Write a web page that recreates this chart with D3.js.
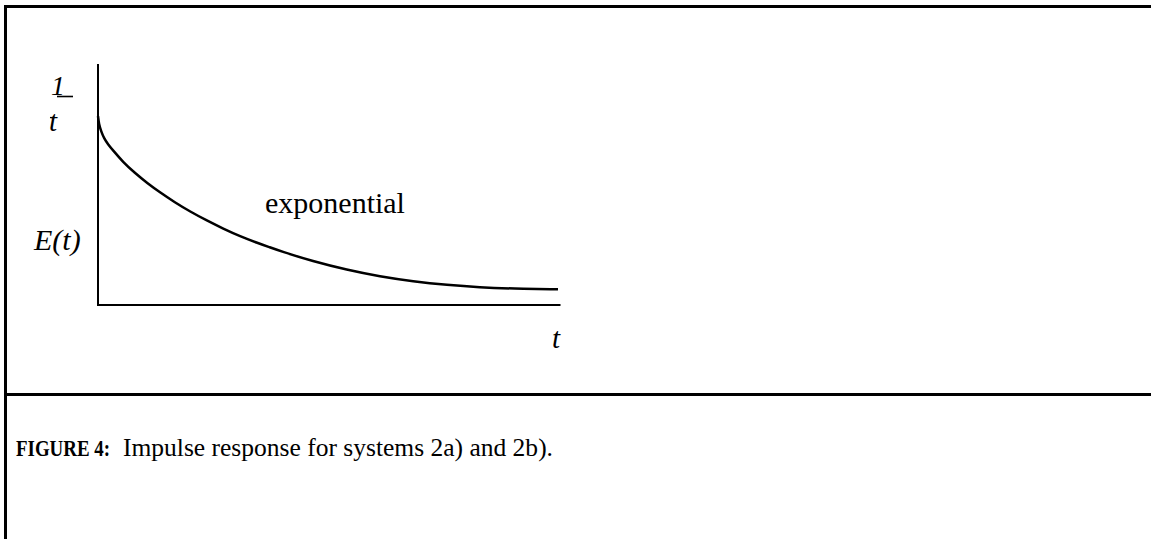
<!DOCTYPE html>
<html>
<head>
<meta charset="utf-8">
<script src="https://cdn.jsdelivr.net/npm/d3@7"></script>
<style>
  html, body { margin: 0; padding: 0; background: #fff; }
  svg { display: block; }
  text { font-family: "Liberation Serif", "Times New Roman", serif; fill: #000; }
</style>
</head>
<body>
<script>
// Impulse response E(t): decaying curve sampled at these times
const tValues = [0, 0.02, 0.07, 0.13, 0.22, 0.33, 0.54, 0.80, 1.07, 1.35, 1.67, 2.0, 2.37, 2.72,
                 3.09, 3.46, 3.74, 3.96, 4.67, 5.41, 6.13, 6.85, 7.59, 8.30, 9.02, 10];
const eValues = [0.784, 0.751, 0.720, 0.692, 0.666, 0.641, 0.594, 0.548, 0.506, 0.467, 0.426, 0.388,
                 0.350, 0.317, 0.285, 0.258, 0.239, 0.224, 0.181, 0.146, 0.118, 0.098, 0.083, 0.073,
                 0.068, 0.065];
const curveLabel = "exponential";
const yLabel = "E(t)";
const xLabel = "t";
const captionBold = "FIGURE 4:";
const captionText = "Impulse response for systems 2a) and 2b).";

const W = 1151, H = 539;
const svg = d3.select("body").append("svg").attr("width", W).attr("height", H);
svg.append("rect").attr("width", W).attr("height", H).attr("fill", "#fff");

// Frame: top rule, left rule, and the rule separating figure from caption
const frame = svg.append("g").attr("stroke", "#000").attr("stroke-width", 3);
frame.append("line").attr("x1", 4).attr("x2", W).attr("y1", 6.5).attr("y2", 6.5);
frame.append("line").attr("x1", 5.5).attr("x2", 5.5).attr("y1", 5).attr("y2", H);
frame.append("line").attr("x1", 4).attr("x2", W).attr("y1", 394.5).attr("y2", 394.5);

// Plot area
const x = d3.scaleLinear().domain([0, 10]).range([98, 558]);
const y = d3.scaleLinear().domain([0, 1]).range([305, 64]);

const axes = svg.append("g").attr("stroke", "#000").attr("stroke-width", 2).attr("fill", "none");
axes.append("line").attr("x1", x(0)).attr("x2", x(0)).attr("y1", y(1)).attr("y2", y(0) + 1);
axes.append("line").attr("x1", x(0) - 1).attr("x2", x(10) + 2.5).attr("y1", y(0)).attr("y2", y(0));

const data = tValues.map((t, i) => ({ t, e: eValues[i] }));
const line = d3.line().x(d => x(d.t)).y(d => y(d.e)).curve(d3.curveBasis);
svg.append("path").datum(data).attr("d", line)
  .attr("fill", "none").attr("stroke", "#000").attr("stroke-width", 2.5);

// Labels
svg.append("text").attr("x", 265).attr("y", 213).attr("font-size", 30).text(curveLabel);
svg.append("text").attr("x", 34).attr("y", 250).attr("font-size", 30)
  .attr("font-style", "italic").text(yLabel);
svg.append("text").attr("x", 552).attr("y", 348).attr("font-size", 29)
  .attr("font-style", "italic").text(xLabel);

// 1 / t-bar marker at the top of the E axis
svg.append("text").attr("x", 51).attr("y", 95).attr("font-size", 28)
  .attr("font-style", "italic").text("1");
svg.append("line").attr("x1", 57).attr("x2", 73).attr("y1", 96.5).attr("y2", 96.5)
  .attr("stroke", "#000").attr("stroke-width", 1.6);
svg.append("text").attr("x", 49).attr("y", 131).attr("font-size", 29)
  .attr("font-style", "italic").text("t");
svg.append("line").attr("x1", 50).attr("x2", 55).attr("y1", 117.5).attr("y2", 117.5)
  .attr("stroke", "#000").attr("stroke-width", 1.2);

// Caption
svg.append("text").attr("x", 16).attr("y", 456).attr("font-size", 23)
  .attr("font-weight", "bold")
  .attr("textLength", 94).attr("lengthAdjust", "spacingAndGlyphs")
  .text(captionBold);
svg.append("text").attr("x", 123).attr("y", 456).attr("font-size", 25)
  .attr("textLength", 430).attr("lengthAdjust", "spacingAndGlyphs")
  .text(captionText);
</script>
</body>
</html>
